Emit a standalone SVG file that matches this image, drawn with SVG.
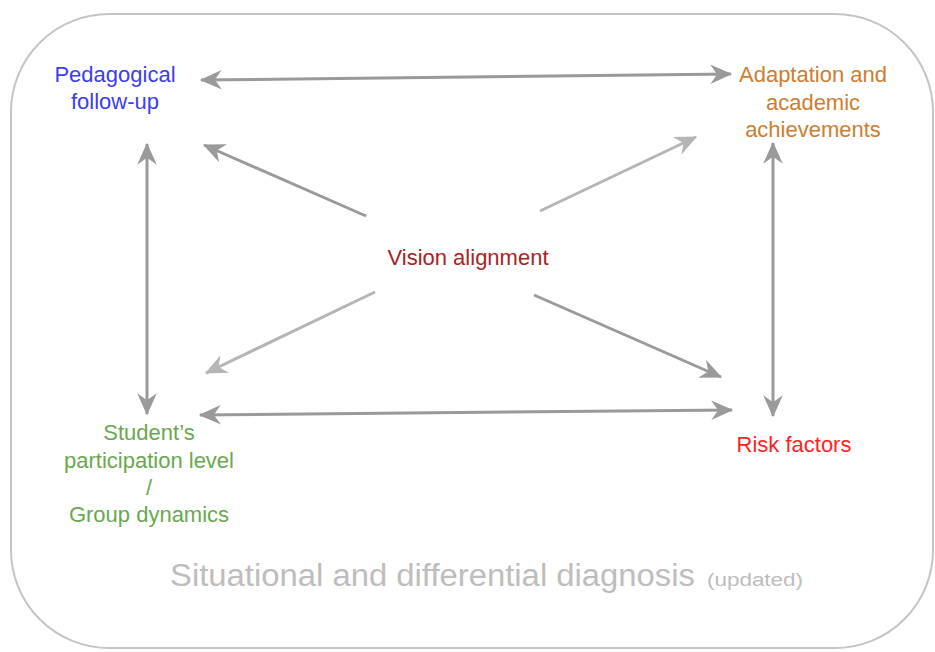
<svg xmlns="http://www.w3.org/2000/svg" width="935" height="652" viewBox="0 0 935 652">
<defs>
<style>
.t{font-family:"Liberation Sans",Arial,sans-serif;font-size:22px;text-anchor:middle}
.dk{stroke:#9a9a9a;stroke-width:3;fill:none}
.lt{stroke:#b5b5b5;stroke-width:3;fill:none}
</style>
<marker id="ad" markerUnits="userSpaceOnUse" markerWidth="30" markerHeight="30" refX="0" refY="0" viewBox="-22 -12 26 24" orient="auto-start-reverse" overflow="visible">
<path d="M1,0 L-18,-8.5 L-12,0 L-18,8.5 Z" fill="#9a9a9a"/>
</marker>
<marker id="al" markerUnits="userSpaceOnUse" markerWidth="30" markerHeight="30" refX="0" refY="0" viewBox="-22 -12 26 24" orient="auto-start-reverse" overflow="visible">
<path d="M1,0 L-18,-8.5 L-12,0 L-18,8.5 Z" fill="#b5b5b5"/>
</marker>
</defs>
<rect width="935" height="652" fill="#ffffff"/>
<g id="frame">
<rect x="11" y="14" width="922" height="634" rx="98" ry="98" fill="none" stroke="#c4c4c4" stroke-width="2"/>
</g>
<g id="connectors">
<line class="dk" x1="201" y1="80" x2="731" y2="74" marker-start="url(#ad)" marker-end="url(#ad)"/>
<line class="dk" x1="147" y1="144" x2="147" y2="414" marker-start="url(#ad)" marker-end="url(#ad)"/>
<line class="dk" x1="200" y1="415" x2="732" y2="410" marker-start="url(#ad)" marker-end="url(#ad)"/>
<line class="dk" x1="773" y1="143" x2="773" y2="416" marker-start="url(#ad)" marker-end="url(#ad)"/>
<line class="dk" x1="366" y1="216" x2="204" y2="145" marker-end="url(#ad)"/>
<line class="lt" x1="540" y1="211" x2="696" y2="137" marker-end="url(#al)"/>
<line class="lt" x1="375" y1="292" x2="206" y2="373" marker-end="url(#al)"/>
<line class="dk" x1="534" y1="295" x2="721" y2="377" marker-end="url(#ad)"/>
</g>
<g id="pedagogical">
<text class="t" x="115" y="82" fill="#3c3cf5">Pedagogical</text>
<text class="t" x="115" y="109" fill="#3c3cf5">follow-up</text>
</g>
<g id="adaptation">
<text class="t" x="813" y="82" fill="#cf7d2e">Adaptation and</text>
<text class="t" x="813" y="110" fill="#cf7d2e">academic</text>
<text class="t" x="813" y="137" fill="#cf7d2e">achievements</text>
</g>
<g id="vision">
<text class="t" x="468" y="265" fill="#a82424">Vision alignment</text>
</g>
<g id="student">
<text class="t" x="149" y="440" fill="#6aa84f">Student’s</text>
<text class="t" x="149" y="468" fill="#6aa84f">participation level</text>
<text class="t" x="149" y="495" fill="#6aa84f">/</text>
<text class="t" x="149" y="522" fill="#6aa84f">Group dynamics</text>
</g>
<g id="risk">
<text class="t" x="794" y="452" fill="#ff1f1f">Risk factors</text>
</g>
<g id="title">
<text x="170" y="586" font-family="Liberation Sans, Arial, sans-serif" fill="#bdbdbd"><tspan font-size="31" textLength="525" lengthAdjust="spacingAndGlyphs">Situational and differential diagnosis</tspan><tspan x="707" font-size="18" textLength="96" lengthAdjust="spacingAndGlyphs">(updated)</tspan></text>
</g>
</svg>
